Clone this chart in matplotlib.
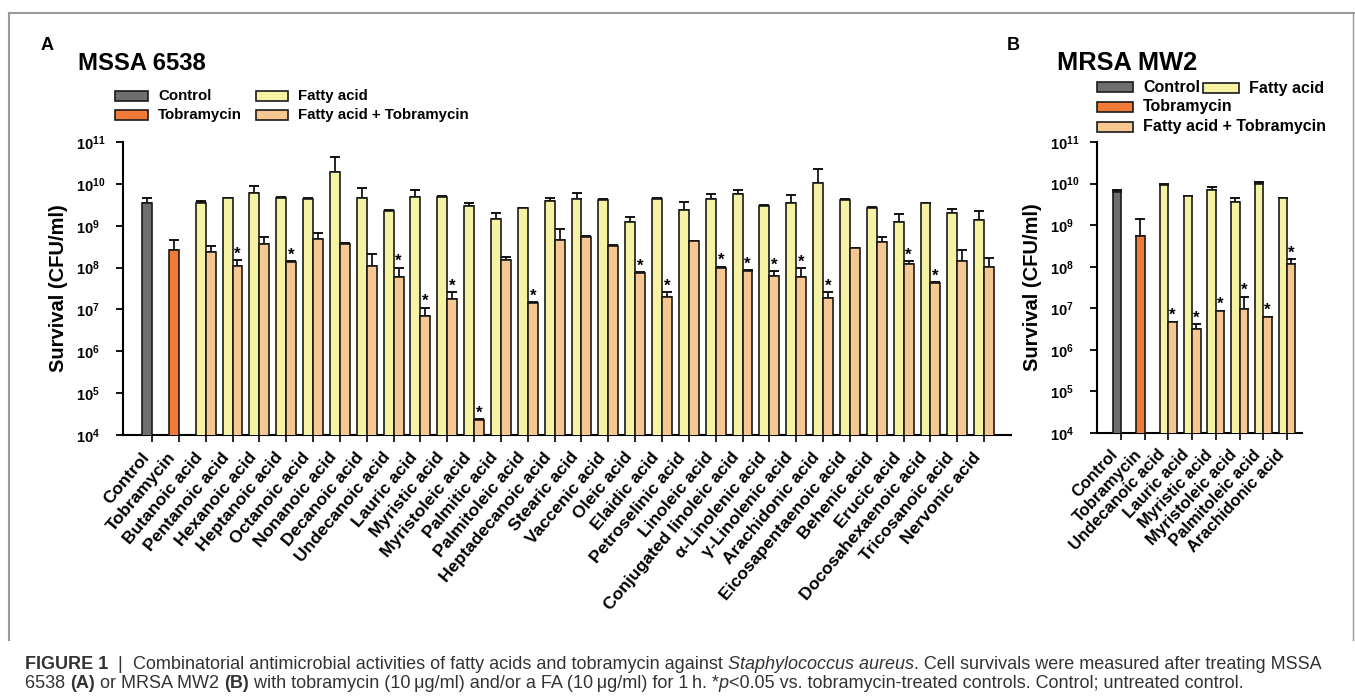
import numpy as np
import matplotlib
matplotlib.use("Agg")
import matplotlib.pyplot as plt
from matplotlib.patches import Rectangle
from matplotlib.lines import Line2D
from matplotlib.transforms import ScaledTranslation

plt.rcParams['font.family'] = ['Liberation Sans', 'DejaVu Sans']
plt.rcParams['mathtext.fontset'] = 'custom'
plt.rcParams['mathtext.rm'] = 'Liberation Sans'
plt.rcParams['mathtext.bf'] = 'Liberation Sans:bold'
plt.rcParams['mathtext.it'] = 'Liberation Sans:italic'

# ---------------- data ----------------
a_acids = ['Butanoic acid', 'Pentanoic acid', 'Hexanoic acid', 'Heptanoic acid', 'Octanoic acid',
           'Nonanoic acid', 'Decanoic acid', 'Undecanoic acid', 'Lauric acid', 'Myristic acid',
           'Myristoleic acid', 'Palmitic acid', 'Palmitoleic acid', 'Heptadecanoic acid', 'Stearic acid',
           'Vaccenic acid', 'Oleic acid', 'Elaidic acid', 'Petroselinic acid', 'Linoleic acid',
           'Conjugated linoleic acid', 'α-Linolenic acid', 'γ-Linolenic acid', 'Arachidonic acid',
           'Eicosapentaenoic acid', 'Behenic acid', 'Erucic acid', 'Docosahexaenoic acid',
           'Tricosanoic acid', 'Nervonic acid']
a_control = 3.4e9
a_control_top = 4.5e9
a_tobra = 2.6e8
a_tobra_top = 4.6e8
a_fa = [3.5e9, 4.5e9, 6.1e9, 4.6e9, 4.3e9, 1.9e10, 4.5e9, 2.3e9, 4.9e9, 4.9e9,
        2.9e9, 1.45e9, 2.6e9, 4.0e9, 4.3e9, 4.2e9, 1.2e9, 4.4e9, 2.4e9, 4.3e9,
        5.6e9, 3.0e9, 3.4e9, 1.07e10, 4.2e9, 2.7e9, 1.25e9, 3.4e9, 2.05e9, 1.4e9]
a_fa_top = [4.0e9, 4.7e9, 9.1e9, 4.8e9, 4.5e9, 4.3e10, 8.1e9, 2.4e9, 7.0e9, 5.1e9,
            3.5e9, 2.0e9, 2.7e9, 4.5e9, 6.1e9, 4.4e9, 1.6e9, 4.6e9, 3.7e9, 5.7e9,
            7.1e9, 3.1e9, 5.3e9, 2.3e10, 4.4e9, 2.8e9, 1.9e9, 3.5e9, 2.5e9, 2.3e9]
a_combo = [2.3e8, 1.1e8, 3.6e8, 1.35e8, 4.8e8, 3.7e8, 1.1e8, 6.0e7, 6.9e6, 1.8e7,
           2.3e4, 1.5e8, 1.45e7, 4.6e8, 5.5e8, 3.3e8, 7.6e7, 2.0e7, 4.2e8, 1.0e8,
           8.3e7, 6.3e7, 6.0e7, 1.9e7, 2.9e8, 4.0e8, 1.24e8, 4.2e7, 1.4e8, 1.05e8]
a_combo_top = [3.2e8, 1.5e8, 5.3e8, 1.4e8, 6.8e8, 3.85e8, 2.1e8, 1.0e8, 1.1e7, 2.6e7,
               2.4e4, 1.8e8, 1.5e7, 8.2e8, 5.6e8, 3.4e8, 7.8e7, 2.6e7, 4.3e8, 1.05e8,
               8.6e7, 8.3e7, 9.6e7, 2.6e7, 3.0e8, 5.3e8, 1.4e8, 4.4e7, 2.7e8, 1.7e8]
a_significant = ['Pentanoic acid', 'Heptanoic acid', 'Undecanoic acid', 'Lauric acid', 'Myristic acid',
                 'Myristoleic acid', 'Palmitoleic acid', 'Oleic acid', 'Elaidic acid', 'Linoleic acid',
                 'Conjugated linoleic acid', 'α-Linolenic acid', 'γ-Linolenic acid', 'Arachidonic acid',
                 'Erucic acid', 'Docosahexaenoic acid']

b_acids = ['Undecanoic acid', 'Lauric acid', 'Myristic acid', 'Myristoleic acid',
           'Palmitoleic acid', 'Arachidonic acid']
b_control = 6.1e9
b_control_top = 7.2e9
b_tobra = 5.5e8
b_tobra_top = 1.4e9
b_fa = [9.3e9, 5.0e9, 6.9e9, 3.7e9, 9.8e9, 4.5e9]
b_fa_top = [9.5e9, 5.1e9, 8.5e9, 4.6e9, 1.1e10, 4.6e9]
b_combo = [4.7e6, 3.1e6, 8.5e6, 9.4e6, 6.1e6, 1.15e8]
b_combo_top = [4.8e6, 4.1e6, 8.7e6, 1.9e7, 6.3e6, 1.5e8]
b_significant = b_acids

yticks = [1e4, 1e5, 1e6, 1e7, 1e8, 1e9, 1e10, 1e11]
ytick_labels = [r'$\mathbf{10^{4}}$', r'$\mathbf{10^{5}}$', r'$\mathbf{10^{6}}$', r'$\mathbf{10^{7}}$',
                r'$\mathbf{10^{8}}$', r'$\mathbf{10^{9}}$', r'$\mathbf{10^{10}}$', r'$\mathbf{10^{11}}$']

legend_labels = ['Control', 'Tobramycin', 'Fatty acid', 'Fatty acid + Tobramycin']

# ---------------- style ----------------
C_CTRL = '#6e6e6e'
C_TOB = '#f07b38'
C_FA = '#f6f2a4'
C_COMBO = '#f7c792'
EDGE = '#1a1a1a'

W, H = 1355, 699
fig = plt.figure(figsize=(W / 100, H / 100), dpi=100)


def fx(x):
    return x / W


def fy(y):
    return 1 - y / H


def draw_panel(ax, acids, ctrl, ctrl_top, tob, tob_top, fa, fa_top, combo, combo_top, sig, w, xlim,
               lab_rot, lab_size, lab_pad, lab_dx):
    n = len(acids)
    pos = np.arange(n + 2)
    fa_x = pos[2:] - w / 2
    co_x = pos[2:] + w / 2
    kw = dict(edgecolor=EDGE, linewidth=1.2, zorder=3)
    ax.bar([pos[0] - w / 2], [ctrl], width=w, color=C_CTRL, **kw)
    ax.bar([pos[1] - w / 2], [tob], width=w, color=C_TOB, **kw)
    ax.bar(fa_x, fa, width=w, color=C_FA, **kw)
    ax.bar(co_x, combo, width=w, color=C_COMBO, **kw)
    ekw = dict(fmt='none', ecolor='black', elinewidth=1.2, capsize=3.6, capthick=1.3, zorder=2)
    ax.errorbar([pos[0] - w / 2], [ctrl], yerr=[[0], [ctrl_top - ctrl]], **ekw)
    ax.errorbar([pos[1] - w / 2], [tob], yerr=[[0], [tob_top - tob]], **ekw)
    ax.errorbar(fa_x, fa, yerr=[np.zeros(n), np.array(fa_top) - np.array(fa)], **ekw)
    ax.errorbar(co_x, combo, yerr=[np.zeros(n), np.array(combo_top) - np.array(combo)], **ekw)
    for i, name in enumerate(acids):
        if name in sig:
            ax.annotate('*', (co_x[i], combo_top[i]), xytext=(0, -1), textcoords='offset points',
                        ha='center', va='bottom', fontsize=12, fontweight='bold', zorder=4)
    ax.set_yscale('log')
    ax.set_ylim(1e4, 1e11)
    ax.set_xlim(*xlim)
    ax.minorticks_off()
    ax.set_yticks(yticks)
    ax.set_yticklabels(ytick_labels, fontsize=10.5, ha='left')
    ax.set_xticks(pos)
    ax.set_xticklabels(['Control', 'Tobramycin'] + list(acids), rotation=lab_rot, ha='right', va='top',
                       fontsize=lab_size, fontweight='bold')
    off = ScaledTranslation(lab_dx / 100, 0, fig.dpi_scale_trans)
    for lab in ax.get_xticklabels():
        lab.set_transform(lab.get_transform() + off)
    for s in ['top', 'right']:
        ax.spines[s].set_visible(False)
    for s in ['left', 'bottom']:
        ax.spines[s].set_linewidth(1.5)
        ax.spines[s].set_color('black')
    ax.tick_params(axis='y', direction='out', length=5, width=1.3, pad=29)
    ax.tick_params(axis='x', direction='out', length=5, width=1.2, pad=lab_pad)
    ax.set_ylabel('Survival (CFU/ml)', fontsize=14.5, fontweight='bold')


# panel A
axA = fig.add_axes([fx(123), fy(435), fx(1011) - fx(123), fy(142) - fy(435)])
draw_panel(axA, a_acids, a_control, a_control_top, a_tobra, a_tobra_top, a_fa, a_fa_top,
           a_combo, a_combo_top, a_significant, 0.37, (-1.08, 32.0),
           lab_rot=50, lab_size=12.6, lab_pad=5.5, lab_dx=5)

# panel B
axB = fig.add_axes([fx(1097), fy(433), fx(1302) - fx(1097), fy(142) - fy(433)])
draw_panel(axB, b_acids, b_control, b_control_top, b_tobra, b_tobra_top, b_fa, b_fa_top,
           b_combo, b_combo_top, b_significant, 0.355, (-1.01, 7.63),
           lab_rot=47, lab_size=12, lab_pad=5.0, lab_dx=6)

# y label positions (pixel based)
axA.yaxis.set_label_coords(fx(58), 0.5 * (fy(142) + fy(435)), transform=fig.transFigure)
axB.yaxis.set_label_coords(fx(1032), 0.5 * (fy(142) + fy(433)), transform=fig.transFigure)
for ax in (axA, axB):
    ax.yaxis.label.set_va('center')

# panel letters and titles
fig.text(fx(41), fy(45), 'A', fontsize=13, fontweight='bold', va='center', ha='left')
fig.text(fx(1007), fy(45), 'B', fontsize=13, fontweight='bold', va='center', ha='left')
fig.text(fx(78), fy(63), 'MSSA 6538', fontsize=17.2, fontweight='bold', va='center', ha='left')
fig.text(fx(1057), fy(63), 'MRSA MW2', fontsize=18.3, fontweight='bold', va='center', ha='left')

colors = [C_CTRL, C_TOB, C_FA, C_COMBO]


def legend_item(x_patch, y_c, pw, color, label, size):
    ph = 9
    fig.add_artist(Rectangle((fx(x_patch), fy(y_c + ph / 2)), pw / W, ph / H, transform=fig.transFigure,
                             facecolor=color, edgecolor=EDGE, linewidth=1.2))
    fig.text(fx(x_patch + pw + 10), fy(y_c), label, fontsize=size, fontweight='bold',
             va='center', ha='left')


# legend A
legend_item(115, 96, 33, colors[0], legend_labels[0], 10.8)
legend_item(115, 115, 33, colors[1], legend_labels[1], 10.8)
legend_item(256, 96, 32, colors[2], legend_labels[2], 10.8)
legend_item(256, 115, 32, colors[3], legend_labels[3], 10.8)
# legend B
legend_item(1097, 87, 36, colors[0], legend_labels[0], 11.5)
legend_item(1097, 107, 36, colors[1], legend_labels[1], 11.5)
legend_item(1203, 88, 36, colors[2], legend_labels[2], 11.5)
legend_item(1097, 127, 36, colors[3], legend_labels[3], 11.5)

# frame
FR = '#9a9a9a'
fig.add_artist(Line2D([fx(9), fx(1354)], [fy(13), fy(13)], color=FR, lw=1.5, transform=fig.transFigure))
fig.add_artist(Line2D([fx(9), fx(9)], [fy(13), fy(640)], color=FR, lw=1.5, transform=fig.transFigure))
fig.add_artist(Line2D([fx(1353), fx(1353)], [fy(13), fy(640)], color=FR, lw=1.0, transform=fig.transFigure))

# caption
renderer = fig.canvas.get_renderer()
CAP = '#333333'
CAP_SIZE = 13.0


def measure(s, **kw):
    t1 = fig.text(0, 0, 'X' + s + 'X', fontsize=CAP_SIZE, **kw)
    t2 = fig.text(0, 0, 'XX', fontsize=CAP_SIZE, **kw)
    w = t1.get_window_extent(renderer).width - t2.get_window_extent(renderer).width
    t1.remove()
    t2.remove()
    return w


def write_runs(x_px, y_px, runs):
    x = x_px
    for s, kw in runs:
        fig.text(fx(x), fy(y_px), s, fontsize=CAP_SIZE, color=CAP, ha='left', va='baseline', **kw)
        x += measure(s, **kw)


R = {}
B = {'fontweight': 'bold'}
I = {'style': 'italic'}
write_runs(25, 669, [
    ('FIGURE 1', B), ('  |  ', R),
    ('Combinatorial antimicrobial activities of fatty acids and tobramycin against ', R),
    ('Staphylococcus aureus', I),
    ('. Cell survivals were measured after treating MSSA', R)])
write_runs(25, 688, [
    ('6538 ', R), ('(A)', B), (' or MRSA MW2 ', R), ('(B)', B),
    (' with tobramycin (10\u2009μg/ml) and/or a FA (10\u2009μg/ml) for 1\u2009h. *', R),
    ('p', I), ('<0.05 vs. tobramycin-treated controls. Control; untreated control.', R)])

fig.savefig('out.png', dpi=100)
